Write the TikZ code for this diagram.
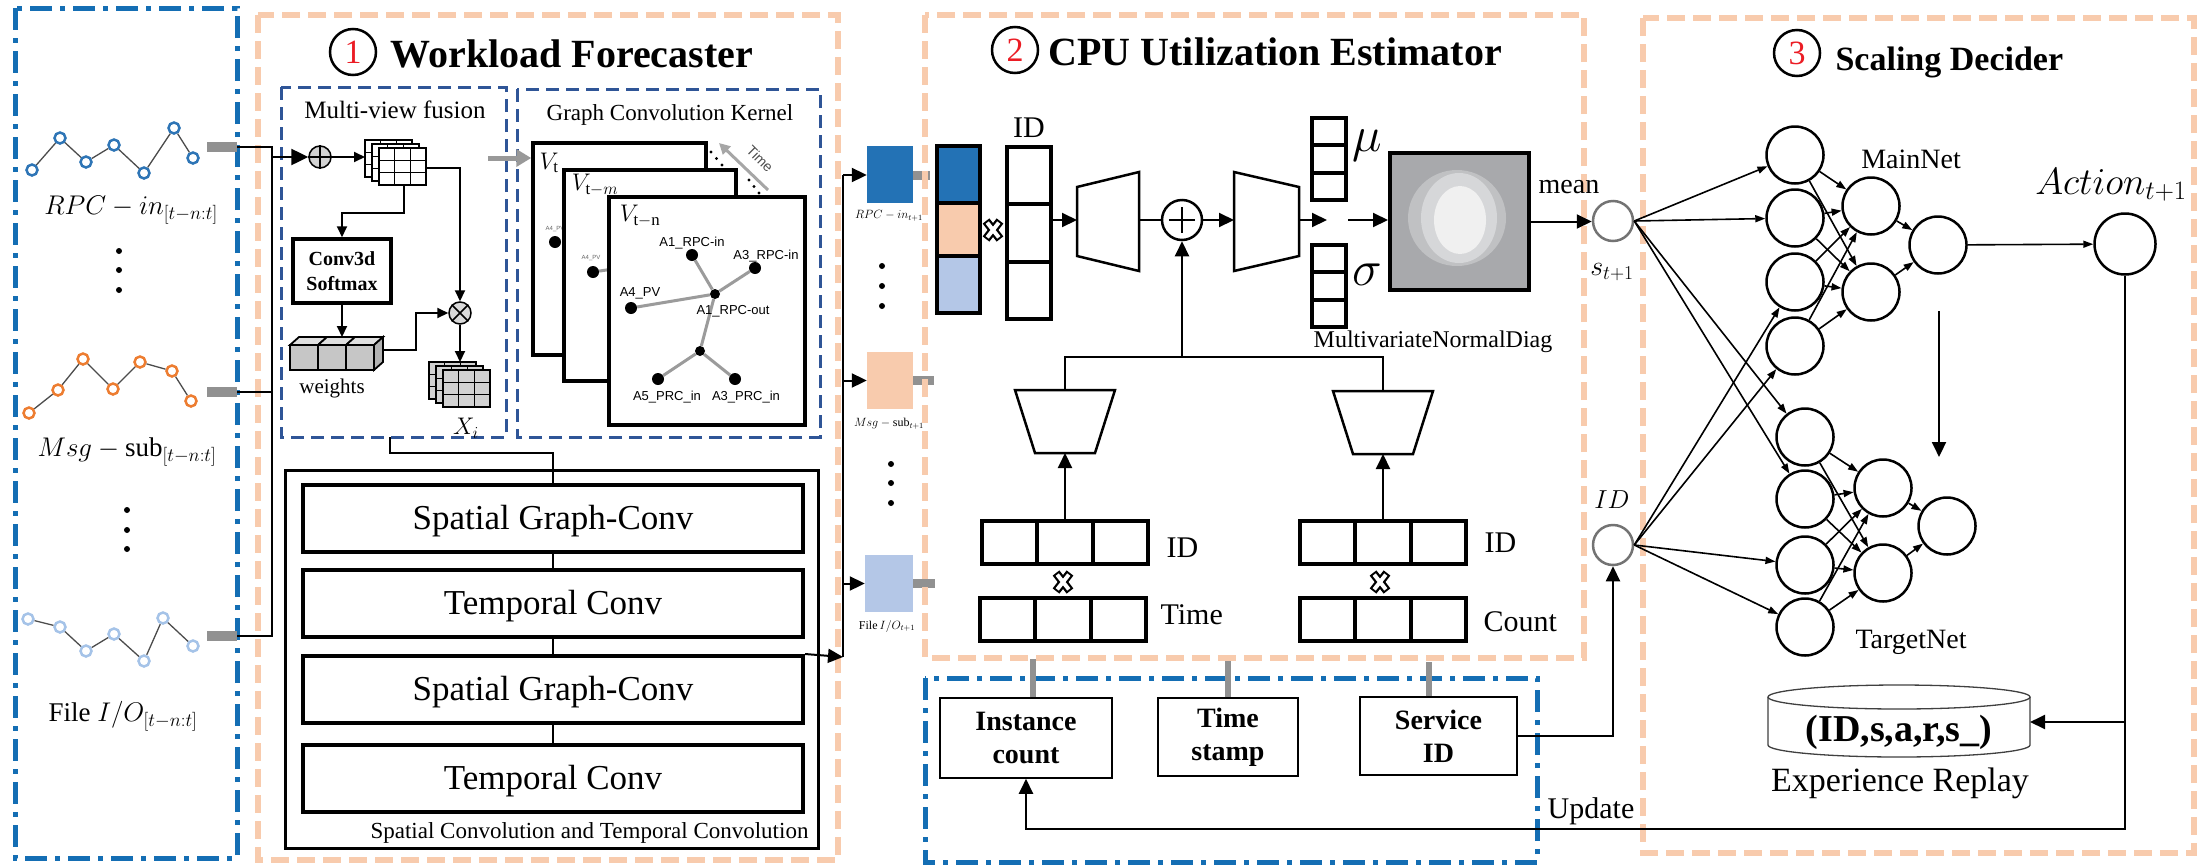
\documentclass[tikz,border=0pt]{standalone}
\usepackage{fix-cm}
\usepackage{fontspec}
\setmainfont{Liberation Serif}
\newfontfamily\gsans{Liberation Sans}
\usetikzlibrary{arrows.meta,calc}

\definecolor{peach}{RGB}{248,203,173}
\definecolor{cellblue}{RGB}{35,114,181}
\definecolor{lightblue}{RGB}{180,199,231}
\definecolor{subblue}{RGB}{47,85,151}
\definecolor{panelblue}{RGB}{20,110,180}
\definecolor{serblue}{RGB}{46,117,182}
\definecolor{serorange}{RGB}{237,125,49}
\definecolor{serlight}{RGB}{165,195,232}
\definecolor{stubgray}{RGB}{145,145,145}
\definecolor{numred}{RGB}{235,28,36}
\definecolor{edgegray}{RGB}{155,155,155}
\definecolor{gaussbg}{RGB}{168,169,172}
\definecolor{gaussa}{RGB}{192,193,195}
\definecolor{gaussb}{RGB}{214,215,217}
\definecolor{gaussc}{RGB}{240,240,240}

% dividers of a three-cell vector (vertical / horizontal)
\newcommand\cellsV[1]{\draw[cellline]
  ($(#1.north west)!1/3!(#1.south west)$) -- ($(#1.north east)!1/3!(#1.south east)$)
  ($(#1.north west)!2/3!(#1.south west)$) -- ($(#1.north east)!2/3!(#1.south east)$);}
\newcommand\cellsH[1]{\draw[cellline]
  ($(#1.north west)!1/3!(#1.north east)$) -- ($(#1.south west)!1/3!(#1.south east)$)
  ($(#1.north west)!2/3!(#1.north east)$) -- ($(#1.south west)!2/3!(#1.south east)$);}

\tikzset{
  fsz/.style={font=\fontsize{#1}{#1}\selectfont},
  orangepanel/.style={draw=peach, line width=6pt, dash pattern=on 18pt off 8pt},
  bluepanel/.style={draw=panelblue, line width=5pt, dash pattern=on 22pt off 8pt on 5pt off 8pt},
  subpanel/.style={draw=subblue, line width=3pt, dash pattern=on 13pt off 7pt},
  smark/.style={circle, fill=white, line width=2.5pt, minimum size=11pt, inner sep=0pt},
  serline/.style={draw=black!70, line width=1.3pt},
  stub/.style={fill=stubgray, minimum width=30pt, minimum height=10pt, inner sep=0pt},
  stubs/.style={fill=stubgray, minimum width=17pt, minimum height=9pt, inner sep=0pt},
  dotc/.style={circle, fill=black, minimum size=6pt, inner sep=0pt},
  conn/.style={line width=2.5pt},
  conn2/.style={line width=2pt},
  arrin/.style={line width=2.5pt, -{Triangle[length=17pt,width=16pt]}},
  arrm/.style={line width=2pt, -{Triangle[length=11pt,width=10pt]}},
  arrb/.style={line width=2pt, -{Triangle[length=15pt,width=14pt]}},
  arrn/.style={line width=1.6pt, -{Triangle[length=10pt,width=7pt]}},
  grayarr/.style={draw=black!40, line width=5pt, -{Triangle[length=15pt,width=17pt]}},
  timearr/.style={draw=black!35, line width=3pt, -{Triangle[length=11pt,width=11pt]}},
  numcirc/.style={circle, draw, line width=2.5pt, minimum size=46pt, inner sep=0pt,
    text=numred, font=\fontsize{34}{34}\selectfont},
  gframe/.style={draw, line width=3.5pt, fill=white, inner sep=0pt},
  gdot/.style={circle, fill=black, minimum size=12pt, inner sep=0pt},
  gedge/.style={draw=edgegray, line width=3pt},
  glab/.style={font=\gsans\fontsize{13}{13}\selectfont, inner sep=0pt},
  tinylab/.style={font=\gsans\fontsize{6}{6}\selectfont, text=black!60, inner sep=0pt},
  blk/.style={draw, line width=4pt, minimum width=500pt, minimum height=67pt,
    text depth=2pt, font=\fontsize{35}{35}\selectfont},
  cbox/.style={minimum width=46pt, minimum height=57pt, inner sep=0pt},
  vcell/.style={draw, line width=4pt, minimum width=43pt, inner sep=0pt},
  hrow/.style={draw, line width=4pt, minimum width=166pt, minimum height=43pt, inner sep=0pt},
  cellline/.style={line width=4pt},
  trapline/.style={line width=2.5pt, line join=miter},
  graylink/.style={draw=stubgray, line width=6pt},
  ibox/.style={draw, line width=1.5pt, fill=white, align=center,
    font=\fontsize{28}{33}\selectfont\bfseries},
  nn/.style={circle, draw, line width=2.5pt, minimum size=57pt, inner sep=0pt},
  incirc/.style={circle, draw=black!55, line width=2.5pt, minimum size=40pt, inner sep=0pt},
  cyl/.style={draw=black!75, line width=1.3pt},
  pics/fmap/.style={code={
    \foreach \d in {0,1,2}{
      \filldraw[fill=#1, line width=1.3pt] (7*\d,4*\d) rectangle ++(47,37);
      \draw[line width=1.3pt] (7*\d+15.67,4*\d) -- ++(0,37) (7*\d+31.33,4*\d) -- ++(0,37)
        (7*\d,4*\d+12.33) -- ++(47,0) (7*\d,4*\d+24.67) -- ++(47,0);
    }}},
  pics/xcross/.style={code={
    \draw[line width=8.5pt] (-7,-9) -- (7,9) (-7,9) -- (7,-9);
    \draw[white, line width=4pt] (-5.8,-7.4) -- (5.8,7.4) (-5.8,7.4) -- (5.8,-7.4);
  }}
}

\begin{document}
\begin{tikzpicture}[x=1pt, y=-1pt]
\useasboundingbox (0,0) rectangle (2197,865);

% ================= input series =================
\draw[bluepanel] (15,8) rectangle (237,858);

\foreach \x/\y [count=\i] in {32/170,60/138,86/162,114/145,144/173,174/128,193/158}
  \node[smark, draw=serblue] (r\i) at (\x,\y) {};
\draw[serline] (r1)--(r2)--(r3)--(r4)--(r5)--(r6)--(r7);
\foreach \x/\y [count=\i] in {29/413,58/390,83/359,113/389,140/362,172/371,191/401}
  \node[smark, draw=serorange] (m\i) at (\x,\y) {};
\draw[serline] (m1)--(m2)--(m3)--(m4)--(m5)--(m6)--(m7);
\foreach \x/\y [count=\i] in {28/619,60/627,86/651,114/634,144/661,163/618,193/646}
  \node[smark, draw=serlight] (f\i) at (\x,\y) {};
\draw[serline] (f1)--(f2)--(f3)--(f4)--(f5)--(f6)--(f7);

\node[stub] (s1) at (222,147) {};
\node[stub] (s2) at (222,392) {};
\node[stub] (s3) at (222,636) {};

\node[fsz=27] (l1) at (131,210) {$RPC-in_{[t-n:t]}$};
\node[fsz=27] (l2) at (127,452) {$Msg-\mathrm{sub}_{[t-n:t]}$};
\node[fsz=27] (l3) at (123,716) {$\mathrm{File}\ I/O_{[t-n:t]}$};

\foreach \y [count=\i] in {251,270,290} \node[dotc] (da\i) at (119,\y) {};
\foreach \y [count=\i] in {510,530,549} \node[dotc] (db\i) at (127,\y) {};

% ================= (1) workload forecaster =================
\draw[orangepanel] (258,15) rectangle (838,860);
\node[numcirc] (n1) at (353,52) {1};
\node[anchor=base west, font=\fontsize{40}{40}\selectfont\bfseries] (t1) at (387,67) {Workload Forecaster};

\draw[subpanel] (281,87) rectangle (506,437);
\draw[subpanel] (517,89) rectangle (820,437);
\node[anchor=base, fsz=25] (mvl) at (395,118) {Multi-view fusion};
\node[anchor=base, fsz=23] (gckl) at (670,120) {Graph Convolution Kernel};

% multi-view fusion
\node[circle, draw, fill=gray!35, line width=1.5pt, minimum size=22pt, inner sep=0pt] (op1) at (320,157) {};
\draw[line width=1.5pt] (op1.north) -- (op1.south) (op1.west) -- (op1.east);

\coordinate (b1) at (272,147);
\coordinate (b3) at (272,636);
\coordinate (bin) at (272,157);
\draw[conn] (s1.east) -- (b1) -- (b3) -- (s3.east);
\draw[conn] (s2.east) -- (s2.east -| b1);
\draw[arrin] (bin) -- (op1.west);

\pic at (365,140) {fmap=white};
\coordinate (gin) at (365,157);
\draw[arrm] (op1.east) -- (gin);

\node[circle, draw, fill=gray!30, line width=1.5pt, minimum size=22pt, inner sep=0pt] (ot) at (460,313) {};
\draw[line width=1.5pt] (ot.north east) -- (ot.south west) (ot.north west) -- (ot.south east);
\coordinate (gout) at (426,168);
\draw[arrm] (gout) -| (ot.north);

\node[draw, line width=3.5pt, minimum width=98pt, minimum height=64pt, align=center,
  font=\fontsize{20}{25}\selectfont\bfseries] (conv) at (342,271) {Conv3d\\Softmax};
\coordinate (gbot) at (404,185);
\draw[arrm] (gbot) -- ++(0,28) -| (conv.north);

\foreach \i in {0,1,2}{
  \filldraw[fill=gray!45, line width=1.8pt] (290+28*\i,345) rectangle ++(28,25);
  \filldraw[fill=gray!25, line width=1.8pt] (290+28*\i,345) -- ++(9,-8) -- ++(28,0) -- ++(-9,8) -- cycle;
}
\filldraw[fill=gray!60, line width=1.8pt] (374,345) -- ++(9,-8) -- ++(0,25) -- ++(-9,8) -- cycle;
\coordinate (wtop) at (341,337);
\coordinate (wout) at (383,350);
\draw[arrm] (conv.south) -- (conv.south |- wtop);
\draw[arrm] (wout) -- ++(33,0) |- (ot.west);
\node[fsz=21] (wl) at (332,388) {weights};

\pic at (429,362) {fmap=gray!35};
\coordinate (xtop) at (460,362);
\draw[arrm] (ot.south) -- (xtop);
\node[fsz=24] (xil) at (466,428) {$X_i$};

% graph convolution kernel
\node[gframe, minimum width=173pt, minimum height=212pt] (fvt) at (619.5,249) {};
\node[fsz=24] (vtl) at (549,163) {$V_{\mathrm{t}}$};
\node[gdot] (a4t) at (555,242) {};
\node[tinylab] (a4tl) at (555,229) {A4\_PV};

\node[gframe, minimum width=172pt, minimum height=211pt] (fvm) at (650,275.5) {};
\node[fsz=24] (vml) at (595,185) {$V_{\mathrm{t}-m}$};
\node[gdot] (a4m) at (593,272) {};
\node[tinylab] (a4ml) at (591,258) {A4\_PV};
\coordinate (hidm) at (660,262);
\draw[gedge] (a4m) -- (hidm);

\node[gframe, minimum width=196pt, minimum height=228pt] (fvn) at (707,311) {};
\node[fsz=24] (vnl) at (640,216) {$V_{\mathrm{t-n}}$};

\coordinate (mvout) at (488,158);
\draw[grayarr] (mvout) -- (mvout -| fvt.west);

\node[gdot] (ga1) at (692,255) {};
\node[gdot] (ga3) at (755,268) {};
\node[gdot, minimum size=10pt] (ghub) at (715,294) {};
\node[gdot] (ga4) at (631,308) {};
\node[gdot, minimum size=10pt] (ghub2) at (700,351) {};
\node[gdot] (ga5) at (658,379) {};
\node[gdot] (ga6) at (735,379) {};
\draw[gedge] (ga1) -- (ghub) (ga3) -- (ghub) (ga4) -- (ghub) (ghub) -- (ghub2)
  (ghub2) -- (ga5) (ghub2) -- (ga6);
\node[glab] (la1) at (692,243) {A1\_RPC-in};
\node[glab] (la3) at (766,256) {A3\_RPC-in};
\node[glab] (la4) at (640,293) {A4\_PV};
\node[glab] (lhub) at (733,311) {A1\_RPC-out};
\node[glab] (la5) at (667,397) {A5\_PRC\_in};
\node[glab] (la6) at (746,397) {A3\_PRC\_in};

\coordinate (tm1) at (768,190);
\coordinate (tm2) at (719,143);
\draw[timearr] (tm1) -- (tm2);
\node[font=\gsans\fontsize{14}{14}\selectfont, text=black!70, rotate=-45] (tml) at (760,159) {Time};
\foreach \i in {0,1,2} {
  \fill (711+5.5*\i,152+6.5*\i) circle[radius=1.6pt];
  \fill (749+5*\i,180+6.5*\i) circle[radius=1.6pt];
}

% spatial / temporal stack
\node[draw, line width=3pt, minimum width=533pt, minimum height=378pt] (stbox) at (551.5,659) {};
\node[blk] (sg1) at (553,518.5) {Spatial Graph-Conv};
\node[blk] (tc1) at (553,603.5) {Temporal Conv};
\node[blk] (sg2) at (553,689.5) {Spatial Graph-Conv};
\node[blk] (tc2) at (553,778.5) {Temporal Conv};
\node[anchor=base east, fsz=23] (stl) at (812,838) {Spatial Convolution and Temporal Convolution};

\coordinate (mvbot) at (390,437);
\draw[conn] (mvbot) -- ++(0,16) -| (sg1.north);
\draw[conn2] (sg1.south) -- (tc1.north);
\draw[conn2] (tc1.south) -- (sg2.north);
\draw[conn2] (sg2.south) -- (tc2.north);

% forecast outputs
\node[cbox, fill=cellblue] (cb1) at (890,174) {};
\node[cbox, fill=peach] (cb2) at (890,380.5) {};
\node[cbox, fill=lightblue, minimum width=48pt] (cb3) at (889,583.5) {};
\node[stubs] (cs1) at (921.5,175) {};
\node[stubs, minimum width=21pt] (cs2) at (923.5,380) {};
\node[stubs, minimum width=22pt] (cs3) at (924,583) {};
\node[fsz=12] (cl1) at (889,216) {$RPC-in_{t+1}$};
\node[fsz=12] (cl2) at (889,424) {$Msg-\mathrm{sub}_{t+1}$};
\node[fsz=12] (cl3) at (887,626) {$\mathrm{File}\,I/O_{t+1}$};
\foreach \y [count=\i] in {266,286,306} \node[dotc] (dc\i) at (882,\y) {};
\foreach \y [count=\i] in {464,483,503} \node[dotc] (dd\i) at (891,\y) {};

\coordinate (busb) at (843,657);
\coordinate (bust) at (843,175);
\draw[arrb] (sg2.north east) -- (busb);
\draw[conn2] (busb) -- (bust);
\draw[arrb] (bust) -- (bust -| cb1.west);
\draw[arrb] (busb |- cb2.west) -- (cb2.west);
\draw[arrb] (busb |- cb3.west) -- (cb3.west);

% ================= (2) CPU utilization estimator =================
\draw[orangepanel] (925,15) rectangle (1584,658);
\node[numcirc] (n2) at (1015,50) {2};
\node[anchor=base west, font=\fontsize{40}{40}\selectfont\bfseries] (t2) at (1045,65) {CPU Utilization Estimator};

\node[vcell, fill=cellblue, minimum height=57pt] (v1) at (958.5,174.5) {};
\node[vcell, fill=peach, minimum height=53pt] (v2) at (958.5,229.5) {};
\node[vcell, fill=lightblue, minimum height=57pt] (v3) at (958.5,284.5) {};
\pic at (993,230) {xcross};

\node[vcell, minimum width=44pt, minimum height=172pt] (idv) at (1029,233) {};
\cellsV{idv}
\node[anchor=base, fsz=30] (idl) at (1029,137) {ID};

\draw[trapline] (1077,187) -- (1139,172) -- (1139,271) -- (1077,256) -- cycle;
\coordinate (t1w) at (1077,220);
\coordinate (t1e) at (1139,220);
\draw[arrb] (idv.east |- t1w) -- (t1w);

\node[circle, draw, line width=2.5pt, minimum size=40pt, inner sep=0pt] (pl) at (1182,220) {};
\draw[line width=2.5pt] ($(pl)+(-13,0)$) -- ($(pl)+(13,0)$) ($(pl)+(0,-13)$) -- ($(pl)+(0,13)$);
\draw[conn2] (t1e) -- (pl.west);

\draw[trapline] (1234,172) -- (1299,187) -- (1299,256) -- (1234,271) -- cycle;
\coordinate (t2w) at (1234,220);
\coordinate (t2e) at (1299,220);
\draw[arrb] (pl.east) -- (t2w);

\node[vcell, minimum width=34pt, minimum height=82pt] (mu) at (1329,159) {};
\cellsV{mu}
\node[vcell, minimum width=34pt, minimum height=82pt] (sgv) at (1329,286) {};
\cellsV{sgv}
\node[fsz=50] (mul) at (1367,146) {$\mu$};
\node[fsz=50] (sgl) at (1367,275) {$\sigma$};

\node[draw, line width=4pt, fill=gaussbg, minimum width=139pt, minimum height=137pt] (ga) at (1459.5,221.5) {};
\fill[gaussa] (1457,218) ellipse [x radius=49, y radius=48];
\fill[gaussb] (1459,218) ellipse [x radius=38, y radius=45];
\fill[gaussc] (1460,220) ellipse [x radius=26, y radius=34];

\coordinate (mid1) at (1327,220);
\coordinate (mid2) at (1348,220);
\draw[arrb] (t2e) -- (mid1);
\draw[arrb] (mid2) -- (mid2 -| ga.west);

\node[fsz=24] (mnd) at (1433,342) {MultivariateNormalDiag};
\node[anchor=base, fsz=28] (meanl) at (1569,193) {mean};

\node[incirc] (sc) at (1613,221) {};
\node[fsz=28] (scl) at (1612,272) {$s_{t+1}$};
\draw[arrb] (ga.east) -- (ga.east -| sc.west);

% embedding branches
\draw[trapline] (1015,390) -- (1115,390) -- (1095,453) -- (1035,453) -- cycle;
\draw[trapline] (1333,391) -- (1433,391) -- (1413,454) -- (1353,454) -- cycle;
\coordinate (t3t) at (1065,390);
\coordinate (t3b) at (1065,453);
\coordinate (t4t) at (1383,391);
\coordinate (t4b) at (1383,454);
\coordinate (jn) at (1182,357);
\draw[conn2] (t3t) -- ++(0,-33) -| (t4t);
\draw[arrb] (jn) -- (pl.south);

\node[hrow] (rid1) at (1065,542.5) {};
\cellsH{rid1}
\node[hrow] (rtm) at (1063,619.5) {};
\cellsH{rtm}
\node[hrow] (rid2) at (1383,542.5) {};
\cellsH{rid2}
\node[hrow] (rct) at (1383,619.5) {};
\cellsH{rct}
\pic at (1063,582) {xcross};
\pic at (1380,582) {xcross};
\draw[arrb] (rid1.north) -- (t3b);
\draw[arrb] (rid2.north) -- (t4b);

\node[anchor=base west, fsz=30] (idl1) at (1163,557) {ID};
\node[anchor=base west, fsz=30] (tml2) at (1157,624) {Time};
\node[anchor=base west, fsz=30] (idl2) at (1481,552) {ID};
\node[anchor=base west, fsz=30] (ctl) at (1480,631) {Count};

% ================= context features =================
\draw[bluepanel] (925,678) rectangle (1537,862);
\node[ibox, minimum width=172pt, minimum height=80pt] (ic) at (1026,738) {Instance\\count};
\node[ibox, minimum width=140pt, minimum height=78pt] (ts) at (1228,737) {Time\\stamp};
\node[ibox, minimum width=157pt, minimum height=78pt] (sid) at (1438.5,736) {Service\\ID};
\draw[graylink] ([xshift=7pt]ic.north) -- ++(0,-38);
\draw[graylink] (ts.north) -- ++(0,-36);
\draw[graylink] ([xshift=-9.5pt]sid.north) -- ++(0,-34);

% ================= (3) scaling decider =================
\draw[orangepanel] (1643,18) rectangle (2194,853);
\node[numcirc] (n3) at (1797,53) {3};
\node[anchor=base west, font=\fontsize{34}{34}\selectfont\bfseries] (t3) at (1832,70) {Scaling Decider};

\node[incirc] (idc) at (1613,545) {};
\node[fsz=26] (idcl) at (1612,500) {$ID$};
\draw[arrb] (sid.east) -| (idc.south);

\node[nn] (q1) at (1795,155) {};
\node[nn] (q2) at (1795,218) {};
\node[nn] (q3) at (1795,282) {};
\node[nn] (q4) at (1795,346) {};
\node[nn] (h1) at (1871,206) {};
\node[nn] (h2) at (1871,292) {};
\node[nn] (o1) at (1938,245) {};
\node[nn] (u1) at (1805,437) {};
\node[nn] (u2) at (1805,499) {};
\node[nn] (u3) at (1805,565) {};
\node[nn] (u4) at (1805,627) {};
\node[nn] (k1) at (1883,488) {};
\node[nn] (k2) at (1883,573) {};
\node[nn] (o2) at (1947,526) {};
\node[nn, minimum size=61pt] (act) at (2125,244) {};

\foreach \t in {q1,q2,u1,u2} \draw[arrn] (sc.east) -- (\t);
\foreach \t in {q3,q4,u3,u4} \draw[arrn] (idc.east) -- (\t);
\foreach \a in {q1,q2,q3,q4} \foreach \b in {h1,h2} \draw[arrn] (\a) -- (\b);
\foreach \a in {u1,u2,u3,u4} \foreach \b in {k1,k2} \draw[arrn] (\a) -- (\b);
\draw[arrn] (h1) -- (o1);
\draw[arrn] (h2) -- (o1);
\draw[arrn] (k1) -- (o2);
\draw[arrn] (k2) -- (o2);
\draw[arrn] (o1) -- (act);

\node[fsz=28] (mnl) at (1911,159) {MainNet};
\node[fsz=28] (tnl) at (1911,642) {TargetNet};
\node[fsz=38] (actl) at (2111,185) {$Action_{t+1}$};

\coordinate (dn1) at (1939,311);
\coordinate (dn2) at (1939,457);
\draw[arrb] (dn1) -- (dn2);

% experience replay
\draw[cyl, fill=white] (1768,697) -- (1768,745) arc[start angle=180, end angle=0, x radius=131, y radius=12] -- (2030,697);
\draw[cyl] (1899,697) ellipse [x radius=131, y radius=12];
\coordinate (cyle) at (2030,722);
\node[font=\fontsize{38}{38}\selectfont\bfseries] (rp) at (1899,732) {(ID,s,a,r,s\_)};
\node[anchor=base, fsz=34] (erl) at (1900,791) {Experience Replay};

\coordinate (upd) at (2126,829);
\draw[arrb] (act.south) -- (act.south |- upd) -| (ic.south);
\draw[arrb] (act.south |- cyle) -- (cyle);
\node[anchor=base, fsz=30] (updl) at (1591,818) {Update};

\end{tikzpicture}
\end{document}
